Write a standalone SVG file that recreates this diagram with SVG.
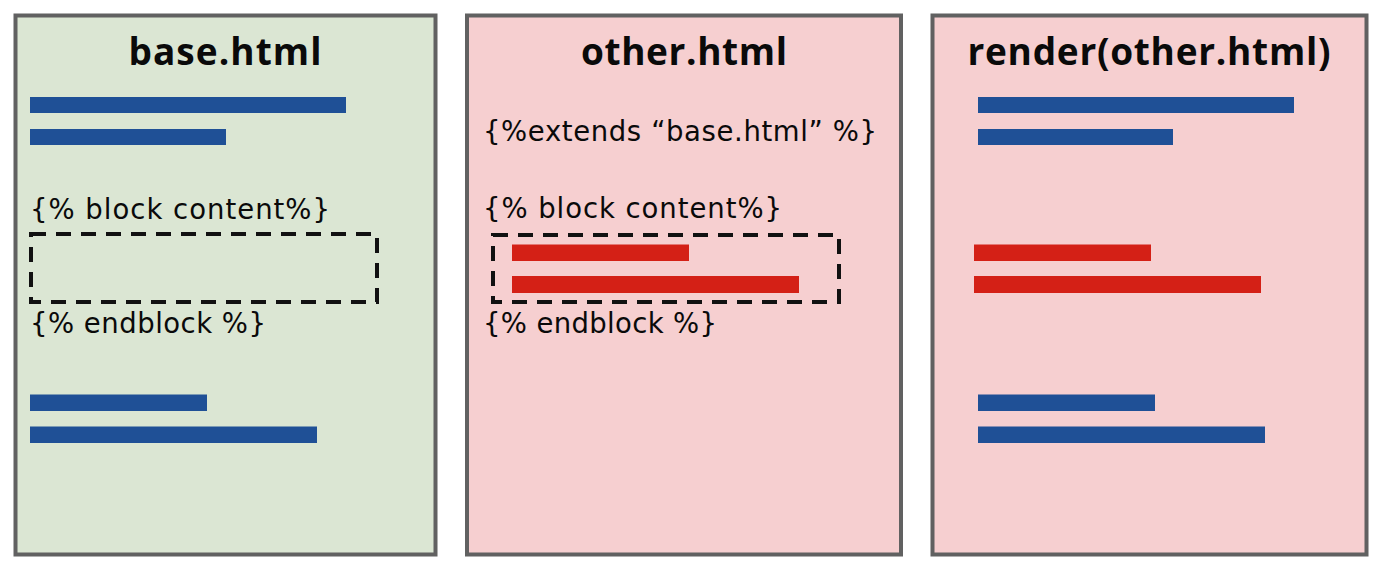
<svg xmlns="http://www.w3.org/2000/svg" width="1386" height="574" viewBox="0 0 1386 574">
<style>
.panel{stroke:#616161;stroke-width:4}
.green{fill:#dbe6d3}
.pink{fill:#f6cfd0}
.blue{fill:#1f5096}
.red{fill:#d42016}
.title{font-family:"Open Sans","Liberation Sans",sans-serif;font-weight:700;font-size:37px;fill:#0a0a0a;text-anchor:middle}
.code{font-family:"DejaVu Sans","Liberation Sans",sans-serif;font-size:27.5px;fill:#0a0a0a}
.dash{fill:none;stroke:#111;stroke-width:4;stroke-dasharray:15 10}
</style>
<rect width="1386" height="574" fill="#ffffff"/>
<g id="base">
<rect class="panel green" x="15.5" y="15.5" width="420" height="539"/>
<text class="title" x="225" y="65" textLength="193">base.html</text>
<rect class="blue" x="30" y="97" width="316" height="16"/>
<rect class="blue" x="30" y="129" width="196" height="16"/>
<text class="code" x="30" y="219" textLength="300">{% block content%}</text>
<rect class="dash" x="31" y="234" width="346" height="68"/>
<text class="code" x="30" y="333" textLength="236">{% endblock %}</text>
<rect class="blue" x="30" y="394.5" width="177" height="16.5"/>
<rect class="blue" x="30" y="426.5" width="287" height="16.5"/>
</g>
<g id="other">
<rect class="panel pink" x="467" y="15.5" width="434" height="539"/>
<text class="title" x="684" y="65" textLength="206">other.html</text>
<text class="code" x="483" y="141" textLength="394">{%extends “base.html” %}</text>
<text class="code" x="483" y="218" textLength="299">{% block content%}</text>
<rect class="dash" x="493" y="235" width="346" height="67"/>
<rect class="red" x="512" y="244.5" width="177" height="16.5"/>
<rect class="red" x="512" y="276" width="287" height="17"/>
<text class="code" x="483" y="333" textLength="234">{% endblock %}</text>
</g>
<g id="render">
<rect class="panel pink" x="932.5" y="15.5" width="434" height="539"/>
<text class="title" x="1149" y="65" textLength="363">render(other.html)</text>
<rect class="blue" x="978" y="97" width="316" height="16"/>
<rect class="blue" x="978" y="129" width="195" height="16"/>
<rect class="red" x="974" y="244.5" width="177" height="16.5"/>
<rect class="red" x="974" y="276" width="287" height="17"/>
<rect class="blue" x="978" y="394.5" width="177" height="16.5"/>
<rect class="blue" x="978" y="426.5" width="287" height="16.5"/>
</g>
<g id="connectors"></g>
</svg>
